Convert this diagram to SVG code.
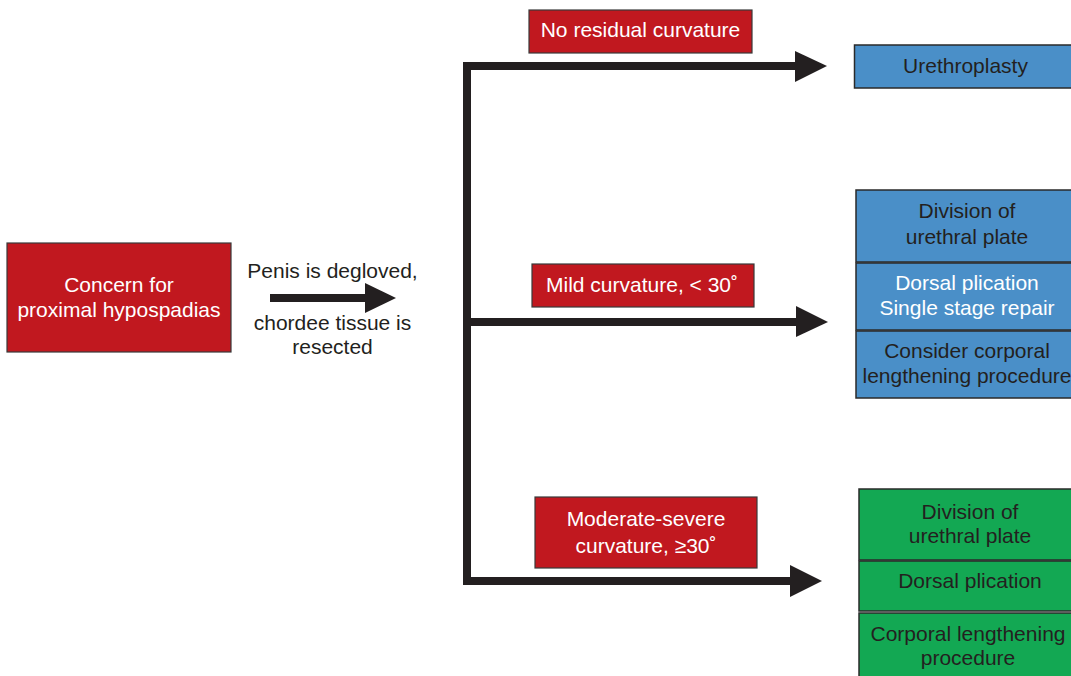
<svg xmlns="http://www.w3.org/2000/svg" width="1071" height="676" viewBox="0 0 1071 676">
<style>
text{font-family:"Liberation Sans",Arial,sans-serif;font-size:21px;text-anchor:middle}
.red{fill:#c1181f;stroke:#3a3a3a;stroke-width:1.2}
.blue{fill:#4a8fc8;stroke:#2a2a2a;stroke-width:1.5}
.green{fill:#13a853;stroke:#2a2a2a;stroke-width:1.5}
.w{fill:#ffffff}
.d{fill:#231f20}
.line{fill:none;stroke:#231f20;stroke-width:8;stroke-linejoin:miter;stroke-linecap:butt}
.head{fill:#231f20}
</style>
<rect width="1071" height="676" fill="#ffffff"/>
<g id="connectors">
<path class="line" d="M796 66 H467 V581 H791"/>
<path class="line" d="M467 322 H797"/>
<path class="line" d="M270 298 H366"/>
<polygon class="head" points="795,51 827,66 795,82"/>
<polygon class="head" points="796,306 828,322 796,337"/>
<polygon class="head" points="790,565 822,581 790,597"/>
<polygon class="head" points="365,283 396,298 365,313"/>
</g>
<g id="concern">
<rect class="red" x="7" y="243" width="224" height="109"/>
<text class="w" x="119" y="292">Concern for</text>
<text class="w" x="119" y="317">proximal hypospadias</text>
</g>
<g id="step-label">
<text class="d" x="332.5" y="278">Penis is degloved,</text>
<text class="d" x="332.5" y="330">chordee tissue is</text>
<text class="d" x="332.5" y="354">resected</text>
</g>
<g id="no-residual">
<rect class="red" x="529" y="10" width="223" height="43"/>
<text class="w" x="640.5" y="37">No residual curvature</text>
</g>
<g id="mild">
<rect class="red" x="532" y="264" width="222" height="43"/>
<text class="w" x="642" y="292">Mild curvature, &lt; 30˚</text>
</g>
<g id="moderate">
<rect class="red" x="535" y="497" width="222" height="71"/>
<text class="w" x="646" y="526">Moderate-severe</text>
<text class="w" x="646" y="553">curvature, ≥30˚</text>
</g>
<g id="urethroplasty">
<rect class="blue" x="854.5" y="45" width="222" height="43"/>
<text class="d" x="965.5" y="73">Urethroplasty</text>
</g>
<g id="mild-treatment">
<rect class="blue" x="856" y="190" width="222" height="72"/>
<text class="d" x="967" y="218">Division of</text>
<text class="d" x="967" y="244">urethral plate</text>
<rect class="blue" x="856" y="263" width="222" height="67"/>
<text class="w" x="967" y="290">Dorsal plication</text>
<text class="w" x="967" y="315">Single stage repair</text>
<rect class="blue" x="856" y="331" width="222" height="67"/>
<text class="d" x="967" y="358">Consider corporal</text>
<text class="d" x="967" y="383">lengthening procedure</text>
</g>
<g id="severe-treatment">
<rect class="green" x="859" y="489" width="222" height="71"/>
<text class="d" x="970" y="519">Division of</text>
<text class="d" x="970" y="543">urethral plate</text>
<rect class="green" x="859" y="561" width="222" height="50"/>
<text class="d" x="970" y="588">Dorsal plication</text>
<rect class="green" x="859" y="613" width="222" height="70"/>
<text class="d" x="968" y="641">Corporal lengthening</text>
<text class="d" x="968" y="665">procedure</text>
</g>
</svg>
